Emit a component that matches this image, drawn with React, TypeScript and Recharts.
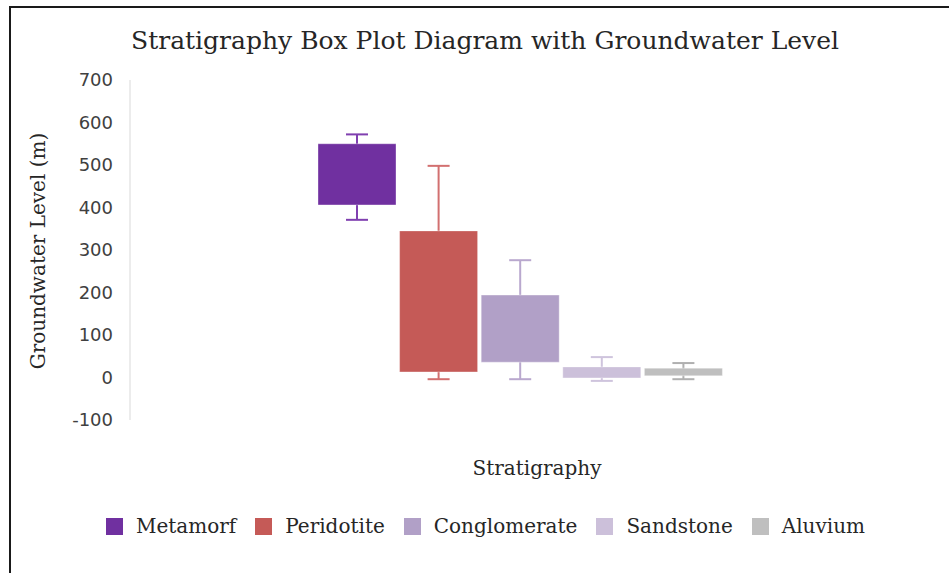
import React from 'react';
import { ComposedChart, Bar, XAxis, YAxis, Cell } from 'recharts';

const categories = ['Metamorf', 'Peridotite', 'Conglomerate', 'Sandstone', 'Aluvium'];
const whiskerMin = [371, -4, -4, -8, -4];
const q1 = [406, 13, 36, -1, 4];
const q3 = [550, 345, 194, 25, 22];
const whiskerMax = [572, 498, 276, 48, 34];
const yTicks = [-100, 0, 100, 200, 300, 400, 500, 600, 700];

const BOX_COLORS = ['#7030A0', '#C55A57', '#B1A0C7', '#CCC0DA', '#BFBFBF'];
const WHISKER_COLORS = ['#8040B0', '#D27070', '#B9A8CE', '#CFC4DD', '#B0B0B0'];

const data = categories.map((name, i) => ({
  name,
  box: [q1[i], q3[i]],
  whisker: [whiskerMin[i], whiskerMax[i]],
}));

const SERIF = '"DejaVu Serif", serif';
const TEXT = '#262626';

function Whisker(props: any) {
  const { x, y, width, height, index } = props;
  const top = Math.min(y, y + height);
  const bottom = Math.max(y, y + height);
  const cx = x + width / 2;
  const cap = 11;
  const color = WHISKER_COLORS[index];
  return (
    <g stroke={color} strokeWidth={2}>
      <line x1={cx} y1={top} x2={cx} y2={bottom} />
      <line x1={cx - cap} y1={top} x2={cx + cap} y2={top} />
      <line x1={cx - cap} y1={bottom} x2={cx + cap} y2={bottom} />
    </g>
  );
}

export default function App() {
  return (
    <div style={{ position: 'absolute', left: 0, top: 0, width: 949, height: 573, background: '#fff' }}>
      <div
        style={{
          position: 'absolute', left: 9, top: 6, width: 940, height: 567,
          borderTop: '2px solid #1a1a1a', borderLeft: '2px solid #1a1a1a',
        }}
      />
      <ComposedChart
        width={949}
        height={573}
        data={data}
        margin={{ top: 80, right: 39, bottom: 153, left: 70 }}
        style={{ position: 'absolute', left: 0, top: 0 }}
      >
        <XAxis xAxisId="w" dataKey="name" hide padding={{ left: 186, right: 186 }} />
        <XAxis xAxisId="b" dataKey="name" hide padding={{ left: 186, right: 186 }} />
        <YAxis
          type="number"
          domain={[-100, 700]}
          ticks={yTicks}
          width={60}
          tickLine={false}
          tickSize={0}
          tickMargin={17}
          axisLine={{ stroke: '#D9D9D9' }}
          tick={{ fill: '#404040', fontSize: 18, fontFamily: '"DejaVu Sans", sans-serif' }}
        />
        <Bar xAxisId="w" dataKey="whisker" barSize={78} shape={<Whisker />} isAnimationActive={false} />
        <Bar xAxisId="b" dataKey="box" barSize={78} isAnimationActive={false}
          stroke="rgba(255,255,255,0.35)" strokeWidth={1}>
          {data.map((d, i) => (
            <Cell key={d.name} fill={BOX_COLORS[i]} />
          ))}
        </Bar>
      </ComposedChart>

      <div style={{ position: 'absolute', left: 485, top: 40, transform: 'translate(-50%,-50%)',
        fontFamily: SERIF, fontSize: 25, color: TEXT, whiteSpace: 'nowrap' }}>
        Stratigraphy Box Plot Diagram with Groundwater Level
      </div>
      <div style={{ position: 'absolute', left: 38, top: 251, transform: 'translate(-50%,-50%) rotate(-90deg)',
        fontFamily: SERIF, fontSize: 20, color: TEXT, whiteSpace: 'nowrap' }}>
        Groundwater Level (m)
      </div>
      <div style={{ position: 'absolute', left: 537, top: 468, transform: 'translate(-50%,-50%)',
        fontFamily: SERIF, fontSize: 20, color: TEXT, whiteSpace: 'nowrap' }}>
        Stratigraphy
      </div>

      <div style={{ position: 'absolute', left: 106, top: 514, display: 'flex', alignItems: 'center',
        fontFamily: SERIF, fontSize: 20, color: TEXT, whiteSpace: 'nowrap' }}>
        {categories.map((c, i) => (
          <div key={c} style={{ display: 'flex', alignItems: 'center', marginRight: 19 }}>
            <span style={{ width: 17, height: 17, background: BOX_COLORS[i], display: 'inline-block', marginRight: 13 }} />
            <span>{c}</span>
          </div>
        ))}
      </div>
    </div>
  );
}
